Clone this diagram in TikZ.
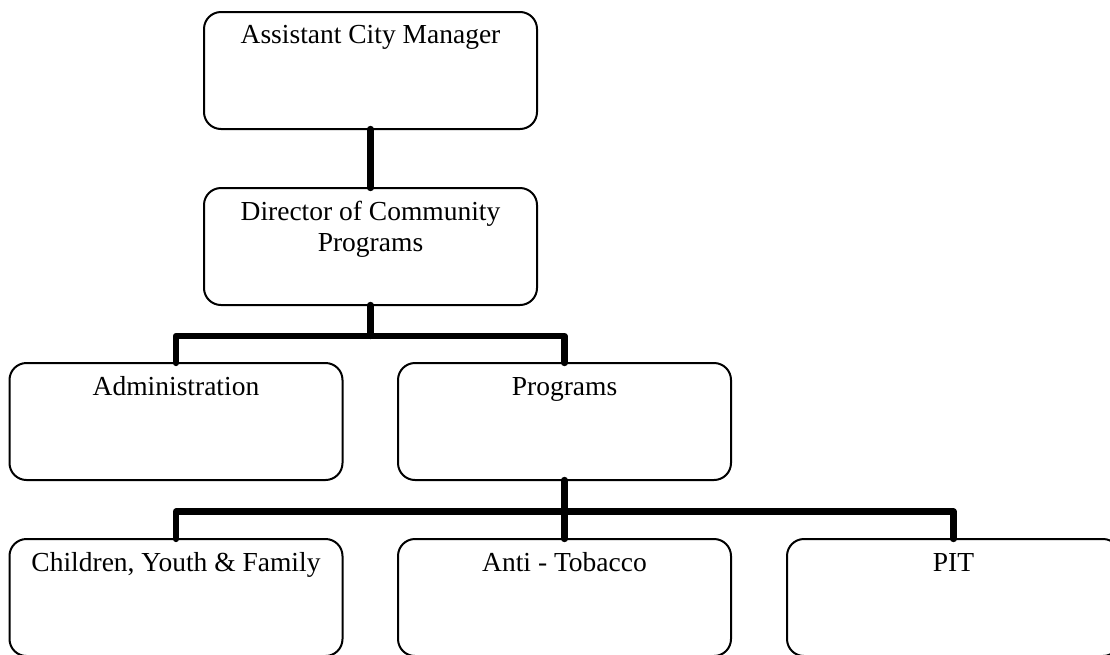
\documentclass[tikz,border=0pt]{standalone}
\usepackage{fontspec}
\setmainfont{Liberation Serif}
\begin{document}
\begin{tikzpicture}[x=1pt,y=-1pt,
  orgbox/.style={draw=black, line width=2pt, rounded corners=17pt, minimum width=333pt, minimum height=117pt, inner sep=0pt, outer sep=0pt},
  boxtext/.style={anchor=base, inner sep=0pt, outer sep=0pt, align=center, font=\fontsize{27.5}{31}\selectfont},
  link/.style={line width=6.3pt, line cap=round, line join=round}]
\useasboundingbox (0,0) rectangle (1110,654);
\clip (0,0) rectangle (1110,654);
% boxes
\node[orgbox] (acm) at (370.5,70.5) {};
\node[orgbox] (dir) at (370.5,246.5) {};
\node[orgbox] (adm) at (176,421.5) {};
\node[orgbox] (prg) at (564.5,421.5) {};
\node[orgbox] (cyf) at (176,597.5) {};
\node[orgbox] (ant) at (564.5,597.5) {};
\node[orgbox] (pit) at (953.5,597.5) {};
% texts
\node[boxtext] (acmT) at ([yshift=-31pt]acm.north) {Assistant City Manager};
\node[boxtext] (dirT) at ([yshift=-63pt]dir.north) {Director of Community\\Programs};
\node[boxtext] (admT) at ([yshift=-32pt]adm.north) {Administration};
\node[boxtext] (prgT) at ([yshift=-32pt]prg.north) {Programs};
\node[boxtext] (cyfT) at ([yshift=-32pt]cyf.north) {Children, Youth \& Family};
\node[boxtext] (antT) at ([yshift=-32pt]ant.north) {Anti - Tobacco};
\node[boxtext] (pitT) at ([yshift=-32pt]pit.north) {PIT};
% connectors
\coordinate (j1) at (370.5,336);
\coordinate (j2) at (564.5,511.5);
\draw[link] (acm.south) -- (dir.north);
\draw[link] (dir.south) -- (j1);
\draw[link] (adm.north) -- (adm.north |- j1) -- (prg.north |- j1) -- (prg.north);
\draw[link] (prg.south) -- (ant.north);
\draw[link] (cyf.north) -- (cyf.north |- j2) -- (pit.north |- j2) -- (pit.north);
\end{tikzpicture}
\end{document}
